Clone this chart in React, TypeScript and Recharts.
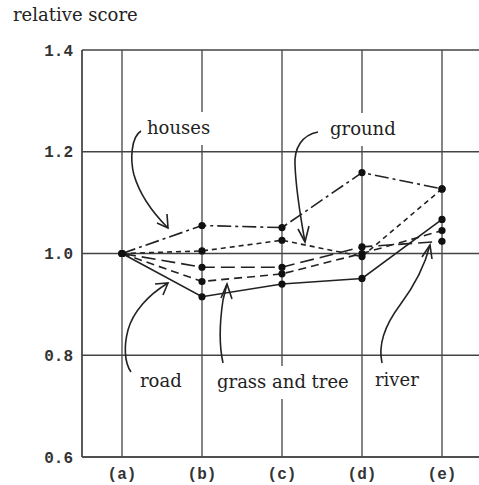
import React from "react";
import { LineChart, Line, XAxis, YAxis, CartesianGrid } from "recharts";

const categories = ["(a)", "(b)", "(c)", "(d)", "(e)"];
const houses = [1.0, 1.055, 1.051, 1.159, 1.127];
const ground = [1.0, 1.005, 1.026, 0.994, 1.127];
const road = [1.0, 0.915, 0.94, 0.951, 1.067];
const grassAndTree = [1.0, 0.945, 0.96, 1.0, 1.045];
const river = [1.0, 0.973, 0.973, 1.013, 1.024];
const yTicks = [0.6, 0.8, 1.0, 1.2, 1.4];

const data = categories.map((c, i) => ({
  name: c,
  houses: houses[i],
  ground: ground[i],
  road: road[i],
  grass: grassAndTree[i],
  river: river[i],
}));

const INK = "#222";
const GRID = "#444";
const labelFont = { fontFamily: "DejaVu Serif", fontSize: 18, fill: INK };
const tickFont = {
  fontFamily: "Liberation Mono",
  fontSize: 16,
  fontWeight: "bold" as const,
  fill: "#333",
};

const series = [
  { key: "houses", dash: "14 4 3 4" },
  { key: "ground", dash: "5 4" },
  { key: "road", dash: undefined },
  { key: "grass", dash: "8 5" },
  { key: "river", dash: "14 6" },
];

// annotation labels with the white boxes behind them
const notes = [
  { text: "houses", x: 147, y: 134, w: 64 },
  { text: "ground", x: 330, y: 135, w: 66 },
  { text: "road", x: 140, y: 387, w: 44 },
  { text: "grass and tree", x: 217, y: 388, w: 136 },
  { text: "river", x: 375, y: 386, w: 46 },
];

const arrows = [
  {
    path: "M141,131 C131,137 130,160 134,175 C139,192 150,210 168,228",
    head: "M157,223 L168,228 L167,214",
  },
  {
    path: "M318,132 C302,135 294,148 295,165 C296,190 301,220 305,242",
    head: "M298,229 L305,242 L309,226",
  },
  {
    path: "M131,372 C124,362 124,345 128,330 C133,312 148,295 168,283",
    head: "M155,284 L168,283 L163,295",
  },
  {
    path: "M223,363 C219,345 220,320 223,300 L227,284",
    head: "M221,298 L227,284 L232,299",
  },
  {
    path: "M382,363 C378,345 385,325 400,305 C415,285 425,265 430,245",
    head: "M422,257 L430,245 L432,259",
  },
];

export default function App() {
  return (
    <div
      style={{
        position: "relative",
        width: 479,
        height: 485,
        overflow: "hidden",
        background: "#fff",
      }}
    >
      <style>{`body{margin:0}`}</style>
      <div
        style={{
          position: "absolute",
          left: 13,
          top: 4,
          fontFamily: "DejaVu Serif",
          fontSize: 18,
          color: INK,
        }}
      >
        relative score
      </div>
      <div style={{ position: "absolute", left: 0, top: 0 }}>
        <LineChart
          width={498}
          height={485}
          data={data}
          margin={{ top: 50, right: 16, bottom: 0, left: 0 }}
        >
          <CartesianGrid stroke={GRID} strokeWidth={1.3} />
          <XAxis
            dataKey="name"
            padding={{ left: 40, right: 40 }}
            tickLine={false}
            tickSize={0}
            tickMargin={11}
            height={28}
            stroke={GRID}
            strokeWidth={1.3}
            tick={tickFont}
            interval={0}
          />
          <YAxis
            type="number"
            domain={[0.6, 1.4]}
            ticks={yTicks}
            tickFormatter={(v: number) => v.toFixed(1)}
            tickLine={false}
            tickSize={0}
            tickMargin={9}
            width={82}
            stroke={GRID}
            strokeWidth={1.3}
            tick={tickFont}
          />
          {series.map((s) => (
            <Line
              key={s.key}
              dataKey={s.key}
              type="linear"
              stroke={INK}
              strokeWidth={1.6}
              strokeDasharray={s.dash}
              dot={{ r: 2.8, fill: "#111", stroke: "#111", strokeDasharray: "" }}
              isAnimationActive={false}
            />
          ))}
        </LineChart>
      </div>
      <svg
        width={479}
        height={485}
        style={{ position: "absolute", left: 0, top: 0, pointerEvents: "none" }}
      >
        {arrows.map((a, i) => (
          <g key={i} fill="none" stroke={INK} strokeWidth={1.6}>
            <path d={a.path} />
            <path d={a.head} />
          </g>
        ))}
        {notes.map((n) => (
          <g key={n.text}>
            <rect x={n.x - 3} y={n.y - 22} width={n.w + 6} height={33} fill="#fff" />
            <text x={n.x} y={n.y} {...labelFont}>
              {n.text}
            </text>
          </g>
        ))}
      </svg>
    </div>
  );
}
